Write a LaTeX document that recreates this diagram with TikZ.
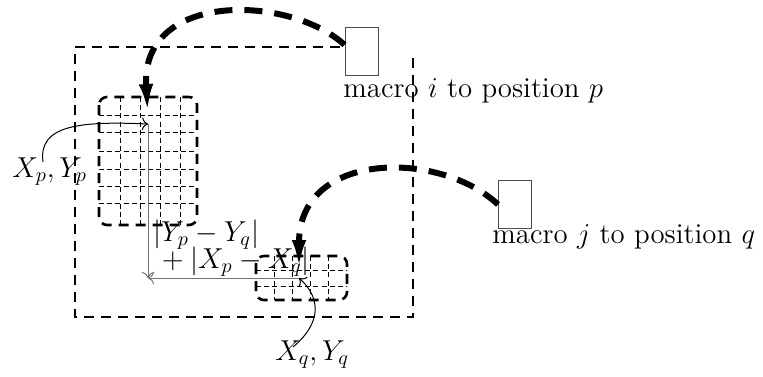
\documentclass[tikz,border=0pt]{standalone}
\usetikzlibrary{arrows.meta}
\begin{document}
\begin{tikzpicture}[x=0.5pt,y=-0.5pt,
  txt/.style={inner sep=0pt, font=\fontsize{14.4}{17}\selectfont},
  frame/.style={line width=1.3pt, dash pattern=on 5pt off 3.5pt},
  gridout/.style={line width=1.3pt, dash pattern=on 5pt off 3.5pt, rounded corners=4pt},
  gridin/.style={line width=0.5pt, dash pattern=on 2.5pt off 1.6pt},
  move/.style={line width=3pt, dash pattern=on 9pt off 6pt, -{Latex[length=16pt,width=7pt]}},
  macrobox/.style={draw=black!70, fill=white, line width=0.5pt, minimum width=16.5pt, minimum height=24pt, inner sep=0pt},
  dist/.style={draw=black!55, line width=0.5pt, -{To[length=3pt]}},
  pointer/.style={line width=0.5pt, -{To[length=3pt]}}
]
\useasboundingbox (0,0) rectangle (763,376);
% chip outline
\draw[frame] (340,47) -- (75,47) -- (75,317) -- (413,317) -- (413,55);
% grid at p
\draw[gridout] (99,97) rectangle (197,225);
\foreach \x in {120,140,160,180} \draw[gridin] (\x,97) -- (\x,225);
\foreach \y in {115,132,151,169,186,203} \draw[gridin] (99,\y) -- (197,\y);
% grid at q
\draw[gridout] (256,256) rectangle (347,300);
\foreach \x in {274,292,310,328} \draw[gridin] (\x,256) -- (\x,300);
\foreach \y in {270,286} \draw[gridin] (256,\y) -- (347,\y);
% macro boxes
\node[macrobox] (mi) at (361.5,51) {};
\node[macrobox] (mj) at (515,204.5) {};
\node[txt, anchor=base west] (li) at (343,97) {macro $i$ to position $p$};
\node[txt, anchor=base west] (lj) at (492,243) {macro $j$ to position $q$};
% targets
\coordinate (p) at (148,116);
\coordinate (q) at (299,272);
\draw[move] (mi.160) .. controls (290,-5) and (140,-10) .. (p);
\draw[move] (mj.west) .. controls (440,150) and (299,150) .. (q);
% distance
\coordinate (pp) at (148,124);
\coordinate (c) at (148,278);
\coordinate (qq) at (299,278);
\draw[dist] (pp) -- (c);
\draw[dist] (qq) -- (c);
\node[txt, anchor=base west] (d1) at (153,241) {$|Y_p-Y_q|$};
\node[txt, anchor=base west] (d2) at (155,268) {${}+|X_p-X_q|$};
% point labels
\node[txt, anchor=base west] (xp) at (12,177) {$X_p,Y_p$};
\node[txt, anchor=base west] (xq) at (275,360) {$X_q,Y_q$};
\coordinate (xpa) at (43,162);
\coordinate (xqa) at (293,347);
\draw[pointer] (xpa) .. controls (38,125) and (80,121) .. (pp);
\draw[pointer] (xqa) .. controls (325,320) and (318,295) .. (qq);
\end{tikzpicture}
\end{document}
